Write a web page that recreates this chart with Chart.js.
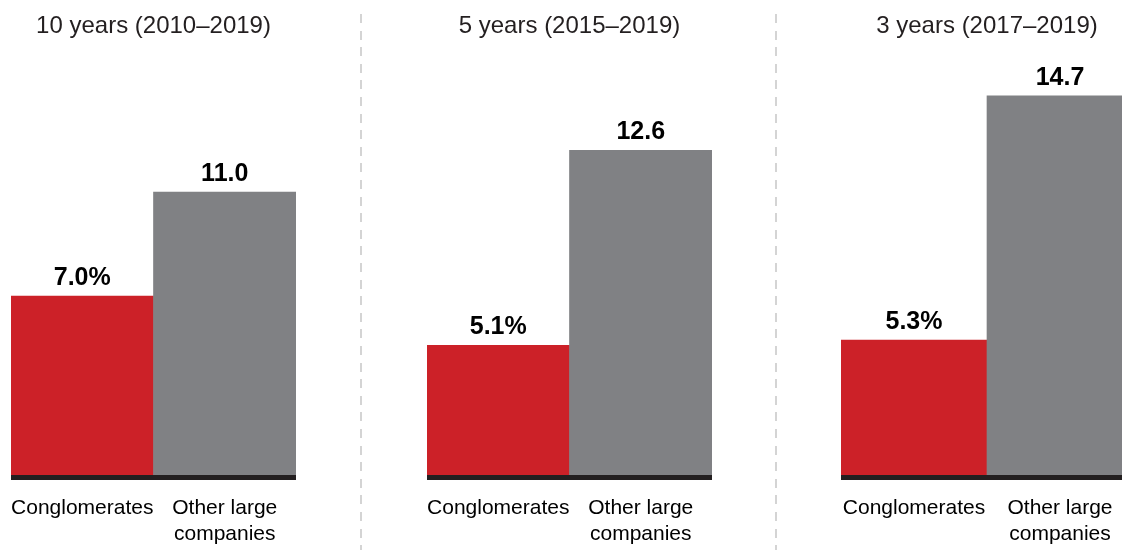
<!DOCTYPE html>
<html>
<head>
<meta charset="utf-8">
<title>Conglomerates vs other large companies</title>
<script src="https://cdn.jsdelivr.net/npm/chart.js@4/dist/chart.umd.min.js"></script>
<style>
  html, body { margin: 0; padding: 0; background: #fff; }
  body { width: 1122px; height: 550px; position: relative; overflow: hidden; }
  canvas.panel { position: absolute; top: 0; }
  .divider {
    position: absolute; top: 14px; width: 2px; height: 536px;
    background: repeating-linear-gradient(to bottom, #d4d4d4 0 9px, transparent 9px 16.6px);
  }
</style>
</head>
<body>
<div class="divider" style="left:360px"></div>
<div class="divider" style="left:775px"></div>
<canvas class="panel" id="p0"></canvas>
<canvas class="panel" id="p1"></canvas>
<canvas class="panel" id="p2"></canvas>
<script>
// Chart data
const periods = ['10 years (2010–2019)', '5 years (2015–2019)', '3 years (2017–2019)'];
const categories = ['Conglomerates', ['Other large', 'companies']];
const conglomerates = [7.0, 5.1, 5.3];
const otherLarge = [11.0, 12.6, 14.7];

// Panel geometry (left edge and width of each pair of bars)
const panelLeft = [11, 427, 841];
const panelWidth = [285, 285, 292];
const MARGIN = 10;

const FONT = '"Liberation Sans", Arial, Helvetica, sans-serif';
const RED = '#cc2128';
const GRAY = '#808184';
const INK = '#231f20';

const panelDecor = {
  id: 'panelDecor',
  afterDatasetsDraw(chart, args, opts) {
    const { ctx, chartArea, scales } = chart;
    const y0 = scales.y.getPixelForValue(0);
    ctx.save();
    // baseline rule
    ctx.fillStyle = INK;
    ctx.fillRect(chartArea.left, y0 - 3, chartArea.right - chartArea.left, 5);
    // value labels
    ctx.font = 'bold 25px ' + FONT;
    ctx.textAlign = 'center';
    ctx.textBaseline = 'alphabetic';
    ctx.fillStyle = '#000';
    const meta = chart.getDatasetMeta(0);
    const data = chart.data.datasets[0].data;
    meta.data.forEach((bar, i) => {
      const txt = data[i].toFixed(1) + (i === 0 ? '%' : '');
      ctx.fillText(txt, bar.x, bar.y - 11);
    });
    // period title
    ctx.font = '24px ' + FONT;
    ctx.fillStyle = INK;
    ctx.fillText(opts.title, (chartArea.left + chartArea.right) / 2, 33);
    ctx.restore();
  }
};

periods.forEach((title, i) => {
  const cv = document.getElementById('p' + i);
  const w = panelWidth[i] + 2 * MARGIN;
  cv.width = w; cv.height = 550;
  cv.style.width = w + 'px'; cv.style.height = '550px';
  cv.style.left = (panelLeft[i] - MARGIN) + 'px';

  new Chart(cv, {
    type: 'bar',
    data: {
      labels: categories,
      datasets: [{
        data: [conglomerates[i], otherLarge[i]],
        backgroundColor: [RED, GRAY],
        borderWidth: 0,
        barPercentage: 1,
        categoryPercentage: 1
      }]
    },
    options: {
      responsive: false,
      animation: false,
      devicePixelRatio: 1,
      layout: { padding: { top: 10, bottom: 0, left: MARGIN, right: MARGIN } },
      plugins: {
        legend: { display: false },
        tooltip: { enabled: false },
        panelDecor: { title }
      },
      scales: {
        x: {
          grid: { display: false, drawTicks: false },
          border: { display: false },
          ticks: {
            color: '#000',
            padding: 18,
            maxRotation: 0,
            autoSkip: false,
            font: { family: FONT, size: 21, lineHeight: 1.2 }
          },
          afterFit(scale) {
            scale.height = 72;
            // keep the bars filling the full plot width
            scale.paddingLeft = 0;
            scale.paddingRight = 0;
          }
        },
        y: {
          display: false,
          min: 0,
          max: 18
        }
      }
    },
    plugins: [panelDecor]
  });
});
</script>
</body>
</html>
